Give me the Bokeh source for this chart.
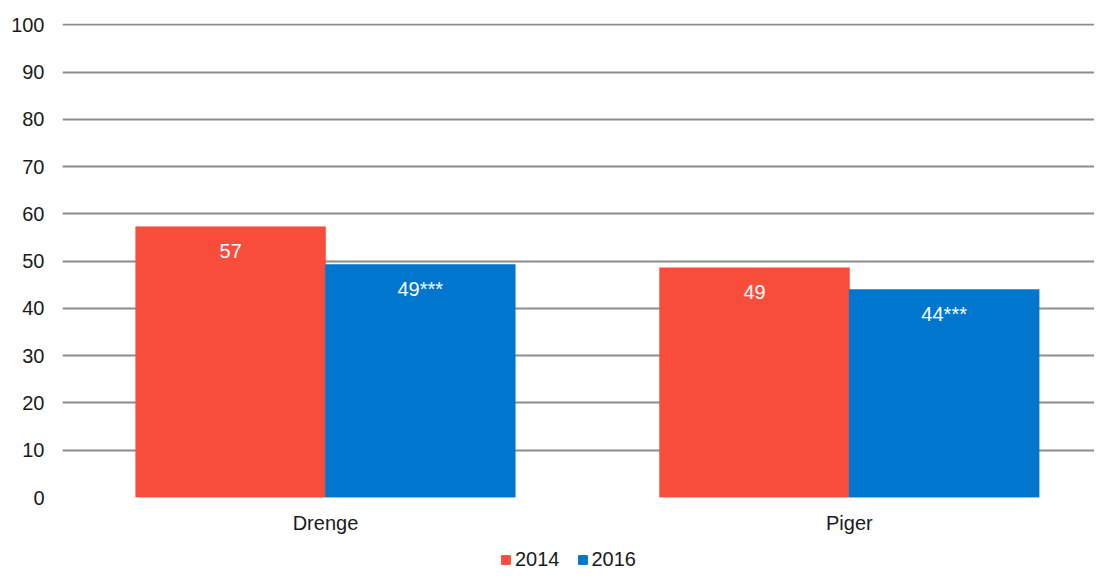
from bokeh.plotting import figure
from bokeh.layouts import column
from bokeh.models import Range1d, FixedTicker, Legend, LegendItem, ColumnDataSource
from bokeh.core.properties import value
from bokeh.embed import file_html
from bokeh.resources import INLINE

categories = ["Drenge", "Piger"]
series_names = ["2014", "2016"]
values_2014 = [57.3, 48.6]
values_2016 = [49.3, 44.0]
labels_2014 = ["57", "49"]
labels_2016 = ["49***", "44***"]
colors = ["#F94D3C", "#0076CE"]

FONT = "Liberation Sans"
FS = "20px"

p = figure(width=1094, height=540, output_backend="svg", toolbar_location=None,
           x_range=Range1d(-0.002, 1.968), y_range=Range1d(0, 100.3),
           min_border_left=62, min_border_right=0, min_border_top=23, min_border_bottom=43)
p.outline_line_color = None
p.background_fill_color = "white"
p.border_fill_color = "white"

xs = [i + 0.5 for i in range(len(categories))]
bw = 0.3626
off = 0.181

for k, (vals, labs) in enumerate([(values_2014, labels_2014), (values_2016, labels_2016)]):
    dx = -off if k == 0 else off
    src = ColumnDataSource(dict(x=[x + dx for x in xs], top=vals, lab=labs))
    p.vbar(x="x", top="top", width=bw, bottom=0, source=src,
           fill_color=colors[k], line_color=colors[k], line_width=0.5)
    p.text(x="x", y="top", text="lab", source=src, y_offset=24,
           text_align="center", text_baseline="middle", text_color="white",
           text_font=value(FONT), text_font_size=FS)

# axes
p.yaxis.ticker = FixedTicker(ticks=list(range(0, 101, 10)))
p.yaxis.axis_line_color = None
p.yaxis.major_tick_line_color = None
p.yaxis.minor_tick_line_color = None
p.yaxis.major_tick_out = 0
p.yaxis.major_tick_in = 0
p.yaxis.major_label_standoff = 18
p.yaxis.major_label_text_font = FONT
p.yaxis.major_label_text_font_size = FS
p.yaxis.major_label_text_color = "#1a1a1a"

p.xaxis.ticker = FixedTicker(ticks=xs)
p.xaxis.major_label_overrides = {x: c for x, c in zip(xs, categories)}
p.xaxis.axis_line_color = None
p.xaxis.major_tick_line_color = None
p.xaxis.minor_tick_line_color = None
p.xaxis.major_tick_out = 0
p.xaxis.major_tick_in = 0
p.xaxis.major_label_standoff = 14
p.xaxis.major_label_text_font = FONT
p.xaxis.major_label_text_font_size = FS
p.xaxis.major_label_text_color = "#1a1a1a"

p.xgrid.grid_line_color = None
p.ygrid.grid_line_color = "#8c8c8c"
p.ygrid.grid_line_width = 2

# legend strip below the chart
pl = figure(width=1094, height=31, output_backend="svg", toolbar_location=None,
            min_border=0, x_range=Range1d(0, 1), y_range=Range1d(0, 1),
            x_axis_location=None, y_axis_location=None)
pl.grid.visible = False
pl.outline_line_color = None
leg_renderers = []
for k in range(len(series_names)):
    # one bar placed outside the visible range; only its legend swatch shows
    r = pl.vbar(x=[-5], top=[-4], bottom=[-6], width=1,
                fill_color=colors[k], line_color=colors[k])
    leg_renderers.append(r)

legend = Legend(items=[LegendItem(label=series_names[i], renderers=[leg_renderers[i]]) for i in range(2)],
                orientation="horizontal", location=(438, 0),
                glyph_width=11, glyph_height=11, label_height=16, label_standoff=4, spacing=17,
                padding=0, margin=0, border_line_color=None, background_fill_alpha=0,
                label_text_font=FONT, label_text_font_size=FS, label_text_color="#1a1a1a")
pl.add_layout(legend)

layout = column(p, pl, spacing=0)
open("out.html", "w").write(file_html(layout, INLINE))
